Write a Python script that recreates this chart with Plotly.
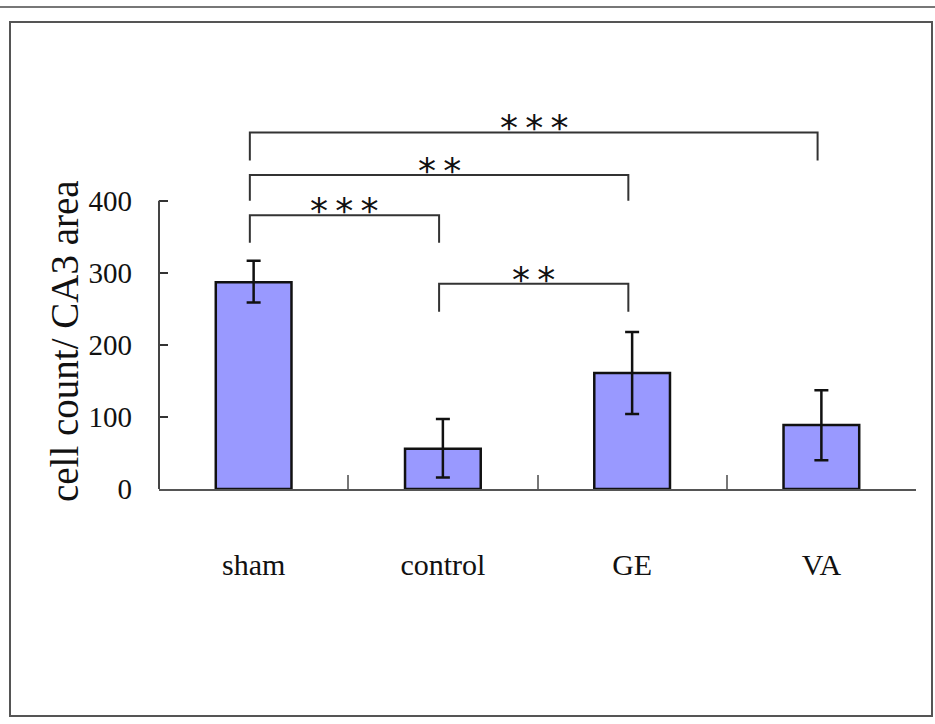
import plotly.graph_objects as go

groups = ["sham", "control", "GE", "VA"]
means = [287, 56, 161, 89]
err_plus = [30, 41, 57, 48]
err_minus = [28, 40, 57, 49]

y_ticks = [0, 100, 200, 300, 400]

# significance brackets: (left group index, right group index, bar height, leg bottom, label)
brk_left = [0, 0, 0, 1]
brk_right = [1, 2, 3, 2]
brk_top = [380, 436, 495, 285]
brk_foot = [342, 400, 456, 246]
brk_stars = [3, 2, 3, 2]

y_title = "cell count/ CA3 area"

FONT = "Liberation Serif, Times New Roman, serif"
BAR = "#9999FF"

fig = go.Figure()
fig.add_trace(go.Bar(
    x=groups, y=means, width=0.4,
    marker=dict(color=BAR, line=dict(color="#111111", width=2.5)),
    error_y=dict(type="data", symmetric=False, array=err_plus, arrayminus=err_minus,
                 color="#111111", thickness=2.5, width=7),
    showlegend=False,
))

L, R, T, B = 159, 19, 100, 235
W, H = 935, 724
pw, ph = W - L - R, H - T - B
def px(x):
    return (x - L) / pw
def py(y):
    return (H - B - y) / ph

shapes = []
annotations = []
off = -0.02
for a, b, top, foot, n in zip(brk_left, brk_right, brk_top, brk_foot, brk_stars):
    xa, xb = a + off, b + off
    shapes.append(dict(type="path", xref="x", yref="y",
                       path=f"M {xa} {foot} L {xa} {top} L {xb} {top} L {xb} {foot}",
                       line=dict(color="#333333", width=2)))
    annotations.append(dict(x=(xa + xb) / 2, y=top, xref="x", yref="y",
                            text="\u2009".join(["*"] * n),
                            showarrow=False, yanchor="bottom", yshift=-18,
                            font=dict(family="DejaVu Sans", size=36, color="#111111")))

annotations.append(dict(x=px(64), y=py(341), xref="paper", yref="paper", text=y_title,
                        textangle=-90, showarrow=False, xanchor="center", yanchor="middle",
                        font=dict(size=39, family=FONT, color="#111111")))

# y-axis line only up to the top tick
shapes.append(dict(type="line", xref="paper", yref="y", x0=0, x1=0, y0=0, y1=max(y_ticks),
                   line=dict(color="#444444", width=2)))

# page decorations: top rule and outer frame
shapes.append(dict(type="line", xref="paper", yref="paper", x0=px(0), x1=px(935), y0=py(7), y1=py(7),
                   line=dict(color="#777777", width=2)))
shapes.append(dict(type="rect", xref="paper", yref="paper", x0=px(10), x1=px(932), y0=py(22), y1=py(716),
                   line=dict(color="#555555", width=2)))

fig.update_layout(
    width=W, height=H,
    margin=dict(l=L, r=R, t=T, b=B, autoexpand=False),
    paper_bgcolor="white", plot_bgcolor="white",
    font=dict(family=FONT, color="#111111"),
    shapes=shapes, annotations=annotations,
    bargap=0.6,
)
fig.update_xaxes(
    type="category", range=[-0.5, 3.5], showline=True, linecolor="#555555", linewidth=2,
    ticks="inside", tickson="boundaries", ticklen=14, tickwidth=1.5, tickcolor="#777777",
    showgrid=False, zeroline=False, tickfont=dict(size=30, family=FONT), ticklabelstandoff=48,
)
fig.update_yaxes(
    range=[0, 540], tickvals=y_ticks, showline=False, showgrid=False, zeroline=False,
    ticks="inside", ticklen=9, tickwidth=1.5, tickcolor="#333333",
    tickfont=dict(size=29, family=FONT), ticklabelstandoff=26,
)

fig.write_html("out.html")
